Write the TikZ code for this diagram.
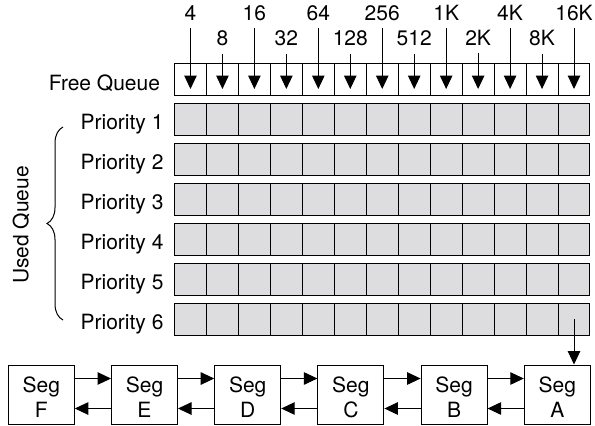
\documentclass[tikz,border=0pt]{standalone}
\usepackage{fontspec}
\setmainfont{TeX Gyre Heros}
\usetikzlibrary{arrows.meta,decorations.pathreplacing}
\definecolor{cellgray}{RGB}{221,221,223}
\begin{document}
\begin{tikzpicture}[x=1bp,y=-1bp,line width=1bp,
  every node/.style={font=\fontsize{21bp}{24.6bp}\selectfont},
  cell/.style={draw,minimum width=31.96bp,minimum height=32bp,inner sep=0pt,outer sep=0pt},
  size/.style={inner sep=0pt,anchor=base},
  rowname/.style={inner sep=0pt,anchor=base east},
  tip/.style={-{Triangle[length=13.5bp,width=12.5bp]}},
  segbox/.style={draw,minimum width=66bp,minimum height=59bp,align=center,inner sep=0pt}]
  \useasboundingbox (0,0) rectangle (595,425);
  % free queue with block sizes
  \node[rowname] (freeq) at (160.5,90) {Free Queue};
  \foreach \i/\s/\y in {1/4/20,2/8/45.7,3/16/20,4/32/45.7,5/64/20,6/128/45.7,7/256/20,
      8/512/45.7,9/1K/20,10/2K/45.7,11/4K/20,12/8K/45.7,13/16K/20} {
    \node[cell] (f\i) at ({174.5+31.96*(\i-0.5)},79) {};
    \node[size] (s\i) at (f\i.center |- 0,\y) {\s};
    \draw[tip,shorten <=7bp] (s\i.south) -- ([yshift=6bp]f\i.south);
  }
  % used queue, one row per priority
  \foreach \r in {1,...,6} {
    \node[rowname] (prio\r) at (164,{89.5+40*\r}) {Priority \r};
    \foreach \i in {1,...,13}
      \node[cell,fill=cellgray] (p\r c\i) at ({174.5+31.96*(\i-0.5)},{79+40*\r}) {};
  }
  \draw[decorate,decoration={brace,amplitude=16bp}] (63,320) -- (63,127);
  \node[rotate=90] (usedq) at (21,225) {Used Queue};
  % segment list
  \foreach \n [count=\k from 0] in {F,E,D,C,B,A}
    \node[segbox] (seg\n) at ({41.3+103.2*\k},394.5) {\rule{0pt}{21bp}Seg\\\n};
  \foreach \a/\b in {F/E,E/D,D/C,C/B,B/A} {
    \draw[tip] ([yshift=-14bp]seg\a.north east) -- ([yshift=-14bp]seg\b.north west);
    \draw[tip] ([yshift=16bp]seg\b.south west) -- ([yshift=16bp]seg\a.south east);
  }
  \draw[tip] (p6c13.center) -- (p6c13.center |- segA.north);
\end{tikzpicture}
\end{document}
